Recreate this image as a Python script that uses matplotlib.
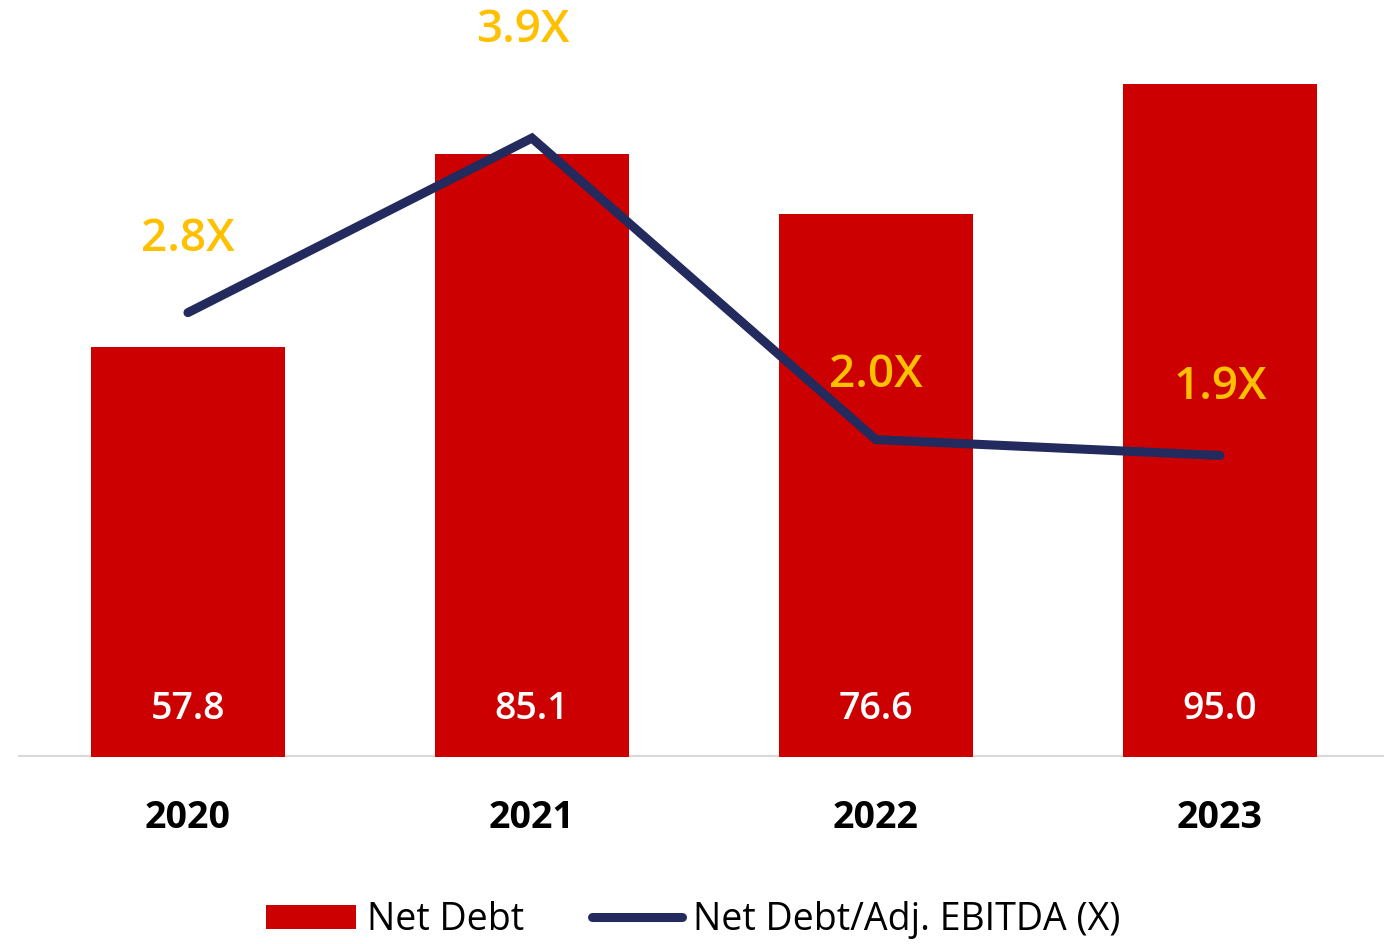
import matplotlib
matplotlib.use("Agg")
import matplotlib.pyplot as plt
from matplotlib.patches import Patch
from matplotlib.lines import Line2D

years = ["2020", "2021", "2022", "2023"]
net_debt = [57.8, 85.1, 76.6, 95.0]
leverage = [2.8, 3.9, 2.0, 1.9]

BAR_RED = "#CC0000"
NAVY = "#222A5E"
GOLD = "#FFC000"
GRID_GRAY = "#D9D9D9"

plt.rcParams["font.family"] = ["Open Sans", "DejaVu Sans"]

W, H = 1384, 944
fig = plt.figure(figsize=(W / 100, H / 100), dpi=100)
ax = fig.add_axes([18 / W, 1 - 757 / H, 1 - 18 / W, 757 / H])
ax2 = ax.twinx()

x = list(range(len(years)))
ax.bar(x, net_debt, width=0.565, color=BAR_RED, zorder=2)
ax.axhline(0, color=GRID_GRAY, lw=3, zorder=1)
ax.set_xlim(-0.494, 3.477)
ax.set_ylim(0, 106.8)

for xi, v in zip(x, net_debt):
    ax.annotate(f"{v:.1f}", (xi, 0), xytext=(0, 48 * 0.72), textcoords="offset points",
                ha="center", va="center", color="white", fontsize=27,
                fontweight="semibold", zorder=3)

ax.set_xticks(x)
ax.set_xticklabels(years, fontsize=27, fontweight="bold", color="black")
ax.tick_params(axis="x", length=0, pad=30)
ax.set_yticks([])

ax2.plot(x, leverage, color=NAVY, lw=6.5, solid_capstyle="round",
         solid_joinstyle="miter", zorder=4)
ax2.set_ylim(0, 4.77)
ax2.set_yticks([])

# label offsets in pixels (dx, dy) from each line point
label_offsets = [(0, 73), (-9, 108), (0, 64), (0, 68)]
for xi, v, (dx, dy) in zip(x, leverage, label_offsets):
    ax2.annotate(f"{v:.1f}X", (xi, v), xytext=(dx * 0.72, dy * 0.72), textcoords="offset points",
                 ha="center", va="center", color=GOLD, fontsize=33,
                 fontweight="semibold", zorder=5)

for a in (ax, ax2):
    for s in a.spines.values():
        s.set_visible(False)
ax.patch.set_visible(False)

handles = [
    Patch(facecolor=BAR_RED, edgecolor="none"),
    Line2D([0], [0], color=NAVY, lw=6.5, solid_capstyle="round"),
]
fig.legend(handles, ["Net Debt", "Net Debt/Adj. EBITDA (X)"], loc="center",
           bbox_to_anchor=(693 / W, 1 - 920 / H), ncol=2, frameon=False,
           fontsize=27, handlelength=2.4, handleheight=0.6, handletextpad=0.3,
           columnspacing=1.8)

fig.savefig("out.png", dpi=100)
